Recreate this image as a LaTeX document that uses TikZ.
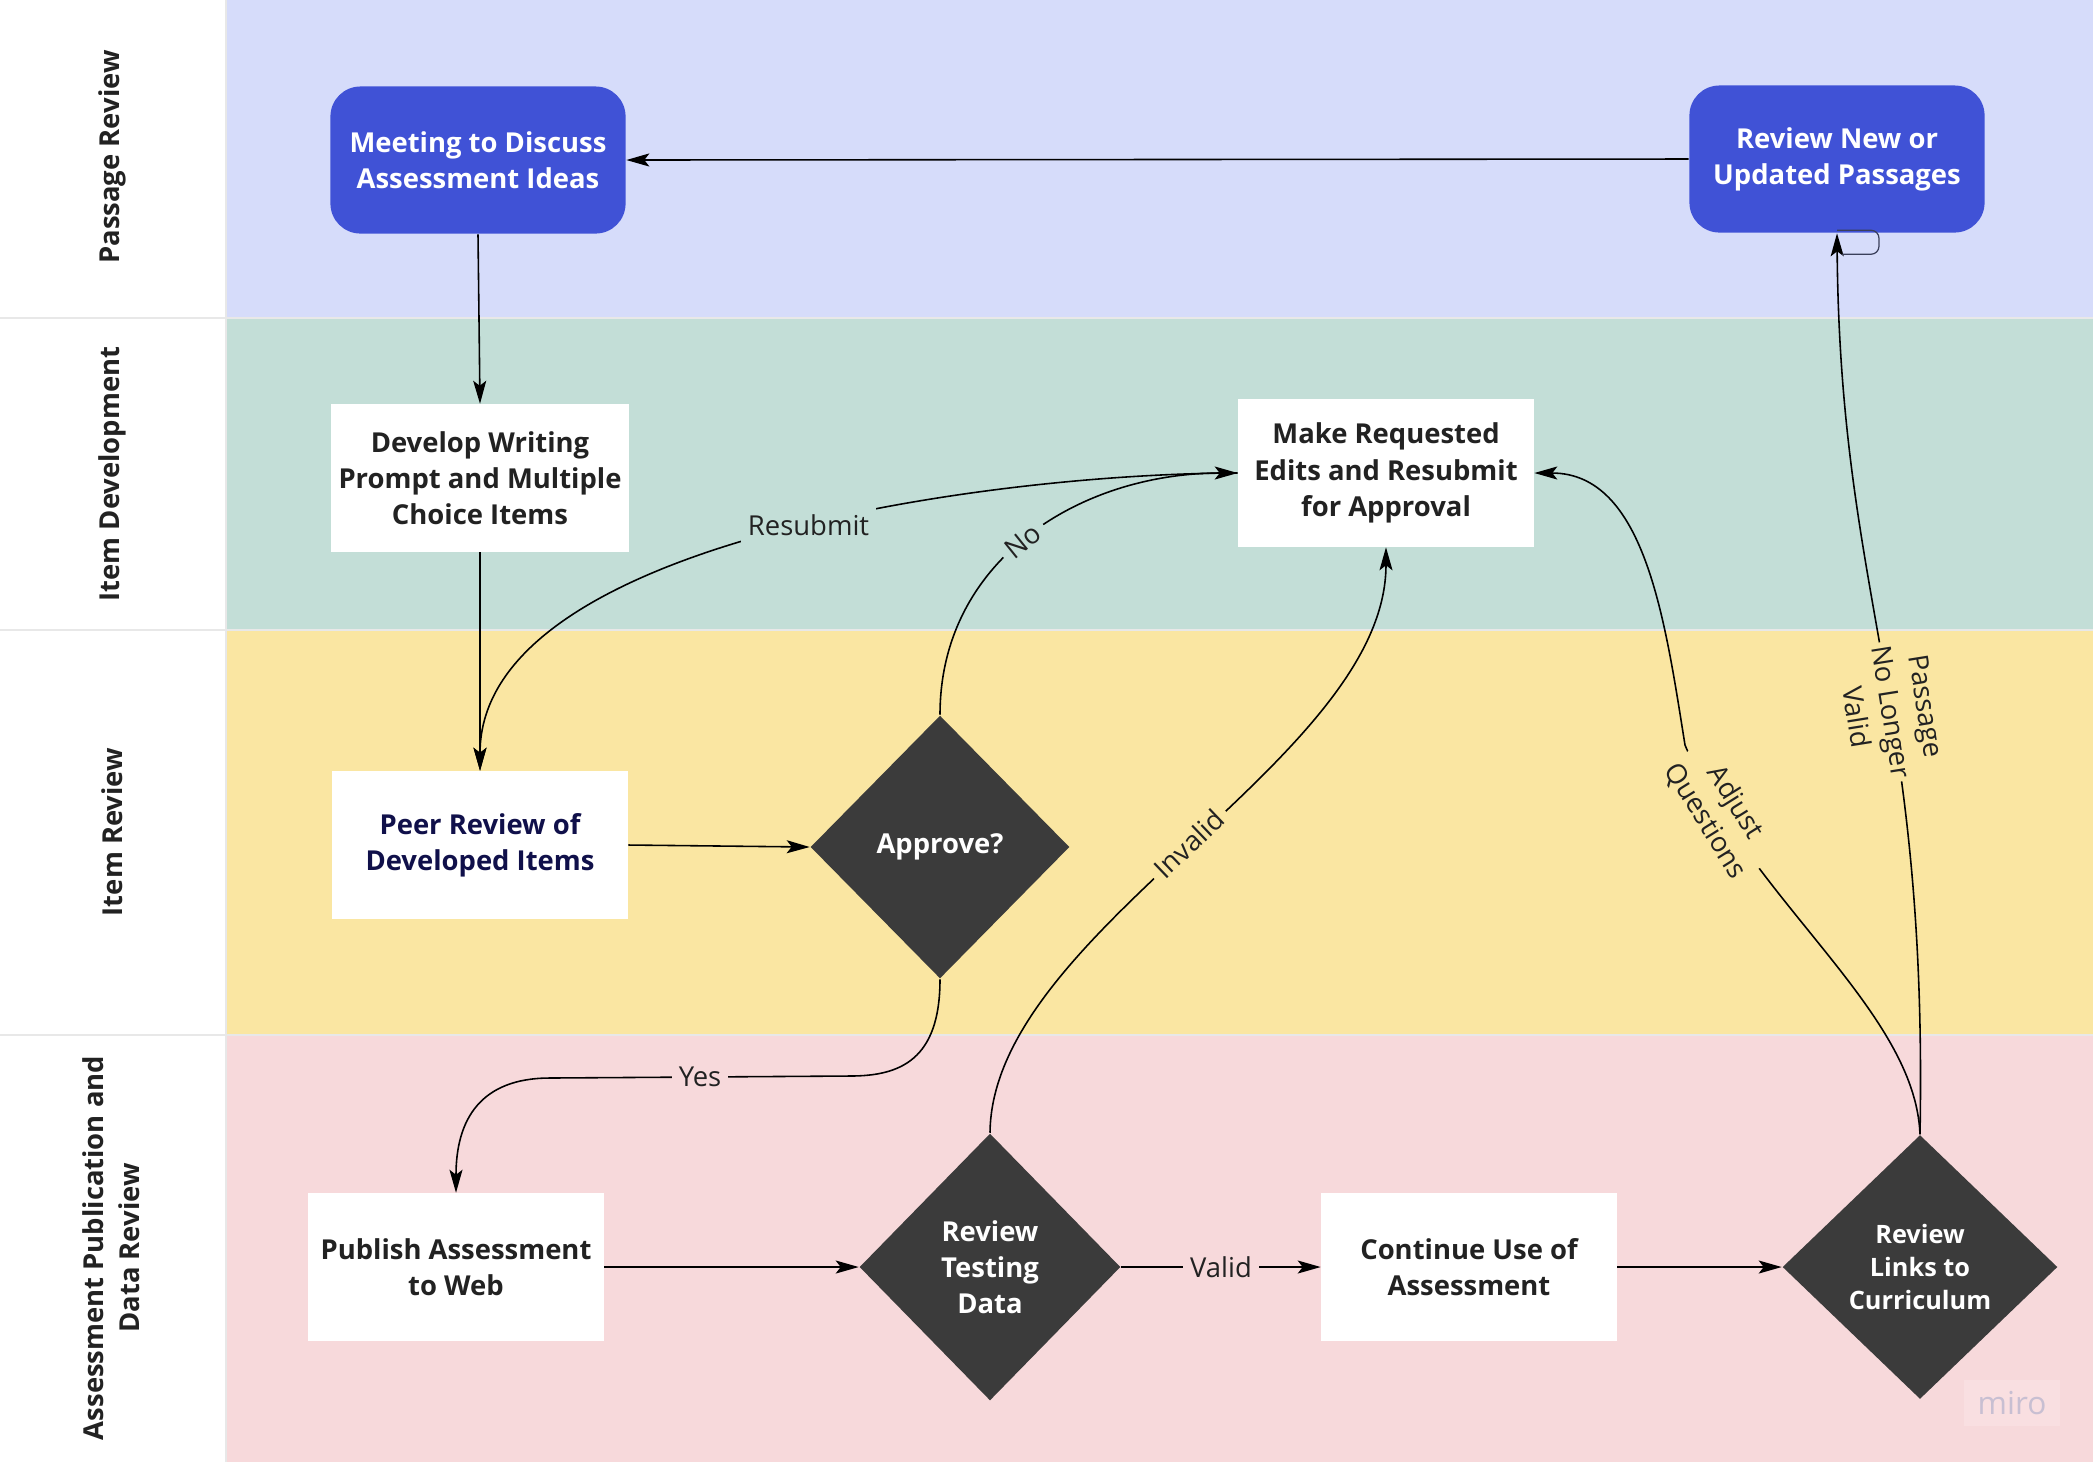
\documentclass[tikz,border=0pt]{standalone}
\usepackage{fontspec}
\setmainfont{Open Sans}
\usetikzlibrary{arrows.meta,shapes.geometric}
\definecolor{cInk}{HTML}{222222}
\definecolor{cNavy}{HTML}{10104A}
\definecolor{cPassage}{HTML}{D6DCFA}
\definecolor{cItemDev}{HTML}{C3DED7}
\definecolor{cItemRev}{HTML}{FAE6A2}
\definecolor{cPublish}{HTML}{F7D9DB}
\definecolor{cBlue}{HTML}{4052D6}
\definecolor{cDark}{HTML}{3B3B3B}
\definecolor{cSep}{HTML}{E8E8E8}
\definecolor{cLoop}{HTML}{3A3F5A}
\definecolor{cMiro}{HTML}{C8BFD2}
\definecolor{cMiroBg}{HTML}{F9DFE1}

\begin{document}
\begin{tikzpicture}[x=0.01cm,y=-0.01cm,
      box/.style={fill=white,minimum width=2.95cm,minimum height=1.47cm,inner sep=2pt,align=center,
                  text=cInk,font=\fontsize{7.8}{10.3}\selectfont\bfseries},
      bluebox/.style={box,fill=cBlue,text=white,rounded corners=0.3cm},
      decision/.style={diamond,fill=cDark,text=white,inner sep=0pt,align=center,
                  font=\fontsize{7.8}{10.3}\selectfont\bfseries},
      arr/.style={-{Stealth[length=2.3mm,width=1.3mm,inset=0.5mm]},line width=0.45pt,black},
      elab/.style={font=\fontsize{7.8}{10}\selectfont,text=cInk,inner sep=2pt,align=center},
      lanelab/.style={rotate=90,align=center,text=cInk,font=\fontsize{7.8}{10.3}\selectfont\bfseries}]
    \useasboundingbox (0,0) rectangle (2093,1462);
    % lanes
    \fill[white] (0,0) rectangle (2093,1462);
    \fill[cPassage] (226,0) rectangle (2093,318);
    \fill[cItemDev] (226,318) rectangle (2093,630);
    \fill[cItemRev] (226,630) rectangle (2093,1035);
    \fill[cPublish] (226,1035) rectangle (2093,1462);
    \foreach \y in {318,630,1035}
      \draw[cSep,line width=0.6pt] (0,\y) -- (2093,\y);
    \draw[cSep,line width=0.6pt] (226,0) -- (226,1462);
    \node[lanelab] (lpass) at (112,157) {Passage Review};
    \node[lanelab] (ldev) at (112,474) {Item Development};
    \node[lanelab] (lrev) at (112,832) {Item Review};
    \node[lanelab] (lpub) at (111,1248) {Assessment Publication and\\Data Review};
    % steps
    \node[bluebox] (meet) at (478,160) {Meeting to Discuss\\Assessment Ideas};
    \node[bluebox] (rnew) at (1837,159) {Review New or\\Updated Passages};
    \node[box] (dev) at (480,478) {Develop Writing\\Prompt and Multiple\\Choice Items};
    \node[box] (mk) at (1386,473) {Make Requested\\Edits and Resubmit\\for Approval};
    \node[box,text=cNavy] (peer) at (480,845) {Peer Review of\\Developed Items};
    \node[decision,minimum width=2.59cm,minimum height=2.63cm] (appr) at (940,847) {Approve?};
    \node[box] (pub) at (456,1267) {Publish Assessment\\to Web};
    \node[decision,minimum width=2.61cm,minimum height=2.67cm] (rtd) at (990,1267) {Review\\Testing\\Data};
    \node[box] (cont) at (1469,1267) {Continue Use of\\Assessment};
    \node[decision,minimum width=2.75cm,minimum height=2.64cm,
          font=\fontsize{7.2}{9.3}\selectfont\bfseries] (rlc) at (1920,1267) {Review\\Links to\\Curriculum};
    \node[fill=cMiroBg,minimum width=0.95cm,minimum height=0.46cm,inner sep=0pt,text=cMiro,
          font=\fontsize{9}{9}\selectfont] (miro) at (2012,1403) {miro};
    % straight links
    \draw[arr] (rnew.west) -- (meet.east);
    \draw[arr] (meet.south) -- (dev.north);
    \draw[arr] (dev.south) -- (peer.north);
    \draw[arr] (peer.east) -- (appr.west);
    \draw[arr] (pub.east) -- (rtd.west);
    \draw[arr] (rtd.east) -- node[elab,fill=cPublish] {Valid} (cont.west);
    \draw[arr] (cont.east) -- (rlc.west);
    % curved links
    \draw[arr] (mk.west) .. controls (1000,473) and (480,540) ..
      node[elab,fill=cItemDev,pos=0.46] {Resubmit} (peer.north);
    \draw[arr] (appr.north) .. controls (940,560) and (1080,473) ..
      node[elab,fill=cItemDev,sloped,pos=0.48] {No} (mk.west);
    \draw[arr] (appr.south) .. controls (940,1060) and (900,1076) .. (850,1076)
      -- node[elab,fill=cPublish] {Yes} (550,1078)
      .. controls (480,1078) and (456,1120) .. (pub.north);
    \draw[arr] (rtd.north) .. controls (992,930) and (1386,760) ..
      node[elab,fill=cItemRev,sloped,pos=0.5] {Invalid} (mk.south);
    \draw[arr] (rlc.north) .. controls (1915,1010) and (1750,900) ..
      node[elab,fill=cItemRev,sloped,pos=0.85,inner sep=1pt] {Adjust\\Questions} (1685,745)
      .. controls (1665,620) and (1645,473) .. (mk.east);
    \draw[arr] (rlc.north) .. controls (1928,700) and (1840,600) ..
      node[elab,fill=cItemRev,sloped,pos=0.43,inner sep=1pt] {Passage\\No Longer\\Valid} (rnew.south);
    \draw[cLoop,line width=0.35pt,rounded corners=0.08cm]
      ([yshift=0.03cm]rnew.south) -- ++(42,0) -- ++(0,24) -- ++(-37,0);
  \end{tikzpicture}
\end{document}
